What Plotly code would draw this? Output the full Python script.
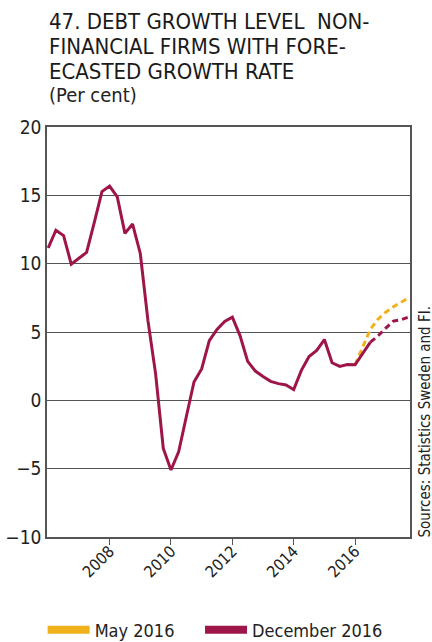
import plotly.graph_objects as go

# Quarterly data, 2006Q1 onwards (index 0 = 2006Q1)
start_year = 2006.0
dec_actual = [11.15, 12.45, 12.05, 9.97, 10.4, 10.82, 13.0, 15.27, 15.68, 14.88,
              12.22, 12.9, 10.75, 5.83, 1.94, -3.52, -5.1, -3.76, -1.2, 1.34,
              2.3, 4.37, 5.19, 5.77, 6.08, 4.74, 2.85, 2.14, 1.75, 1.39,
              1.22, 1.12, 0.78, 2.19, 3.21, 3.65, 4.45, 2.75, 2.48, 2.62,
              2.6, 3.45, 4.26]
dec_forecast = [4.26, 4.72, 5.28, 5.8, 5.9, 6.1]          # from index 42
may_forecast = [2.6, 3.95, 5.2, 5.95, 6.45, 6.85, 7.15, 7.5]  # from index 40
dec_fc_start = 42
may_fc_start = 40

y_ticks = [-10, -5, 0, 5, 10, 15, 20]
x_ticks = [2008, 2010, 2012, 2014, 2016]

RED = "#9E1549"
YELLOW = "#EFB21A"
FONT = "DejaVu Sans Condensed, Liberation Sans Narrow, Roboto Condensed, sans-serif"
NB = "\u00a0"

def qx(i):
    return start_year + i * 0.25

fig = go.Figure()
fig.add_trace(go.Scatter(
    x=[qx(i) for i in range(may_fc_start, may_fc_start + len(may_forecast))],
    y=may_forecast, mode="lines", showlegend=False,
    line=dict(color=YELLOW, width=3, dash="6px,4px")))
fig.add_trace(go.Scatter(
    x=[qx(i) for i in range(dec_fc_start, dec_fc_start + len(dec_forecast))],
    y=dec_forecast, mode="lines", showlegend=False,
    line=dict(color=RED, width=3, dash="6px,4px")))
fig.add_trace(go.Scatter(
    x=[qx(i) for i in range(len(dec_actual))],
    y=dec_actual, mode="lines", showlegend=False,
    line=dict(color=RED, width=3)))
# legend entries
fig.add_trace(go.Scatter(x=[None], y=[None], mode="lines", name="May 2016" + NB * 4,
                         line=dict(color=YELLOW, width=8)))
fig.add_trace(go.Scatter(x=[None], y=[None], mode="lines", name="December 2016",
                         line=dict(color=RED, width=8)))

fig.update_layout(
    width=432, height=642,
    margin=dict(l=47, r=22, t=127, b=105, autoexpand=False),
    plot_bgcolor="white", paper_bgcolor="white",
    font=dict(family=FONT, color="#222", size=17),
    legend=dict(orientation="h", x=-0.012, xanchor="left", y=-0.182, yanchor="top",
                font=dict(size=18, color="#222"), itemwidth=42, tracegroupgap=0),
)
fig.update_xaxes(range=[2005.96, 2017.79], tickvals=x_ticks, automargin=False,
                 ticktext=[str(v) for v in x_ticks], tickangle=-45,
                 ticks="outside", ticklen=6, tickcolor="#555", ticklabelstandoff=-9,
                 showgrid=False, zeroline=False,
                 showline=True, linecolor="#555", linewidth=1.5, mirror=True,
                 tickfont=dict(size=16))
fig.update_yaxes(range=[-10, 20], tickvals=y_ticks, ticks="", automargin=False,
                 showgrid=True, gridcolor="#555", gridwidth=1,
                 zeroline=False, showline=True, linecolor="#555", linewidth=1.5,
                 mirror=True, tickfont=dict(size=19))

title_lines = ["47. DEBT GROWTH LEVEL  NON-", "FINANCIAL FIRMS WITH FORE-",
               "ECASTED GROWTH RATE"]
for k, t in enumerate(title_lines):
    fig.add_annotation(text=t, xref="paper", yref="paper", x=0, xanchor="left",
                       y=1, yanchor="bottom", yshift=127 - 35 - 25 * k - 1,
                       showarrow=False, font=dict(size=22, color="#1a1a1a"))
fig.add_annotation(text="(Per cent)", xref="paper", yref="paper", x=0, xanchor="left",
                   y=1, yanchor="bottom", yshift=127 - 109,
                   showarrow=False, font=dict(size=20, color="#222"))
fig.add_annotation(text="Sources: Statistics Sweden and FI.", xref="paper", yref="paper",
                   x=1, xanchor="left", xshift=3, y=0, yanchor="bottom", yshift=-3,
                   textangle=-90, showarrow=False, font=dict(size=15, color="#222"))

fig.write_html("out.html",
               config={"displayModeBar": False},
               post_script="document.body.style.margin='0';"
                           "document.body.style.overflow='hidden';")
